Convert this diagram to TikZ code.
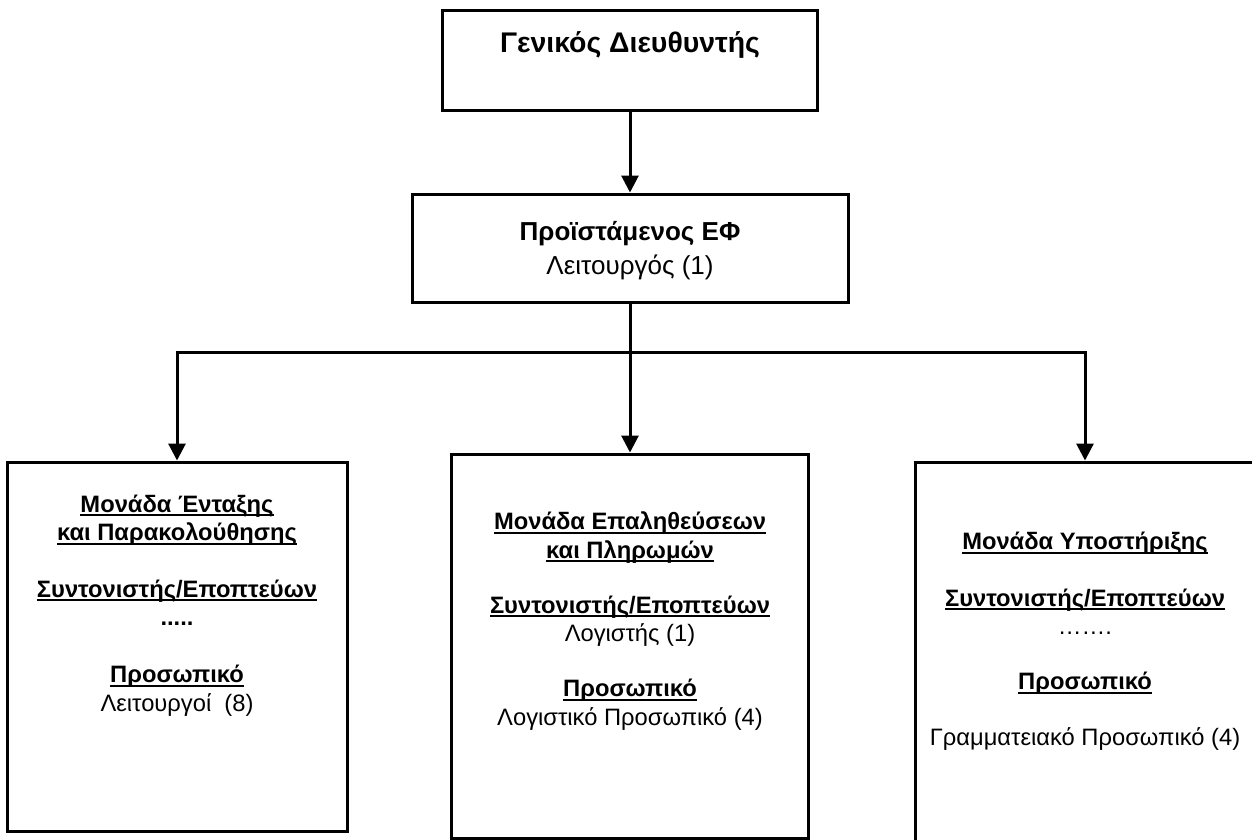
\documentclass[tikz,border=0pt]{standalone}
\usepackage{fontspec}
\setmainfont{Liberation Sans}
\usetikzlibrary{arrows.meta}

\newsavebox{\ulsave}
\newcommand{\undl}[1]{\sbox{\ulsave}{#1}\rlap{\rule[-3pt]{\wd\ulsave}{1.5pt}}\usebox{\ulsave}}

\begin{document}
\begin{tikzpicture}[x=0.75pt, y=-0.75pt,
	box/.style={draw, line width=2.25pt, inner sep=0pt},
	arr/.style={line width=2.25pt, -{Triangle[width=12.75pt,length=12.75pt]}},
	txt/.style={align=center, anchor=base, inner sep=0pt, font=\fontsize{17.8}{21.3}\selectfont}]
	\clip (0,0) rectangle (1252,839);
	% boxes
	\node[box, minimum width=281.25pt, minimum height=75pt] (gd) at (630,60) {};
	\node[box, minimum width=327pt, minimum height=81pt] (pr) at (630,248) {};
	\node[box, minimum width=255pt, minimum height=276.75pt] (m1) at (177,646.5) {};
	\node[box, minimum width=267.75pt, minimum height=288pt] (m2) at (630,646) {};
	\node[box, minimum width=255pt, minimum height=328.5pt] (m3) at (1085,681) {};
	% texts (anchored at the last baseline)
	\node[txt, font=\fontsize{21.3}{25.5}\selectfont] (gdt) at (630,52) {\bfseries Γενικός Διευθυντής};
	\node[txt, font=\fontsize{19.5}{25.5}\selectfont] (prt) at (630,274) {\bfseries Προϊστάμενος ΕΦ\\ Λειτουργός (1)};
	\node[txt] (m1t) at (177,711) {\undl{\bfseries Μονάδα Ένταξης}\\
		\undl{\bfseries και Παρακολούθησης}\\[21.3pt]
		\undl{\bfseries Συντονιστής/Εποπτεύων}\\
		{\bfseries .....}\\[21.3pt]
		\undl{\bfseries Προσωπικό}\\
		Λειτουργοί\ \ (8)};
	\node[txt] (m2t) at (630,725) {\undl{\bfseries Μονάδα Επαληθεύσεων}\\
		\undl{\bfseries και Πληρωμών}\\[20pt]
		\undl{\bfseries Συντονιστής/Εποπτεύων}\\
		Λογιστής (1)\\[20pt]
		\undl{\bfseries Προσωπικό}\\
		Λογιστικό Προσωπικό (4)};
	\node[txt] (m3t) at (1085,745) {\undl{\bfseries Μονάδα Υποστήριξης}\\[21.3pt]
		\undl{\bfseries Συντονιστής/Εποπτεύων}\\
		…….\\[20pt]
		\undl{\bfseries Προσωπικό}\\[20pt]
		Γραμματειακό Προσωπικό (4)};
	% connectors
	\coordinate (hub) at (630,352);
	\draw[arr] (gd.south) -- (pr.north);
	\draw[arr] (pr.south) -- (m2.north);
	\draw[arr] (hub) -| (m1.north);
	\draw[arr] (hub) -| (m3.north);
\end{tikzpicture}
\end{document}
